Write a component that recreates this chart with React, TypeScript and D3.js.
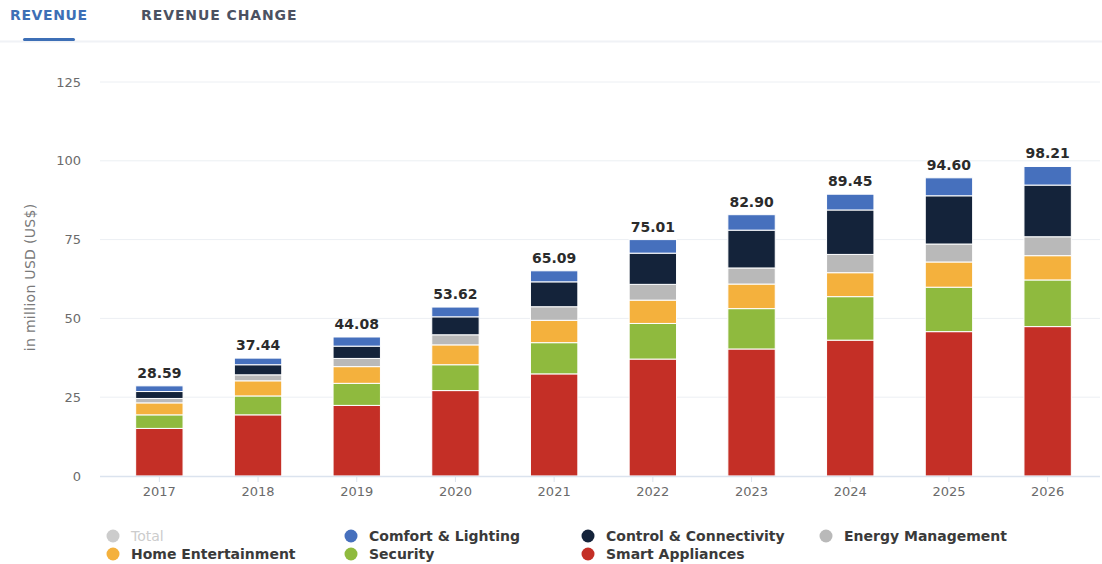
import React, { useEffect, useRef } from 'react';
import * as d3 from 'd3';

const years = ['2017', '2018', '2019', '2020', '2021', '2022', '2023', '2024', '2025', '2026'];
const totals = [28.59, 37.44, 44.08, 53.62, 65.09, 75.01, 82.9, 89.45, 94.6, 98.21];

// stacked bottom -> top
const smartAppliances = [15.1, 19.4, 22.4, 27.1, 32.4, 37.1, 40.3, 43.1, 45.8, 47.4];
const security = [4.3, 6.0, 7.0, 8.2, 9.9, 11.3, 12.8, 13.8, 14.1, 14.8];
const homeEntertainment = [3.8, 4.8, 5.3, 6.3, 7.1, 7.4, 7.8, 7.6, 8.0, 7.7];
const energyManagement = [1.4, 1.9, 2.6, 3.2, 4.3, 5.0, 5.1, 5.8, 5.7, 6.0];
const controlConnectivity = [2.2, 3.2, 3.9, 5.7, 7.9, 9.9, 12.0, 14.1, 15.3, 16.4];
const comfortLighting = [1.8, 2.1, 2.9, 3.1, 3.5, 4.3, 4.9, 5.0, 5.7, 5.9];

const yTicks = [0, 25, 50, 75, 100, 125];

const seriesList = [
  { name: 'Smart Appliances', values: smartAppliances, color: '#c42f26' },
  { name: 'Security', values: security, color: '#8fba3e' },
  { name: 'Home Entertainment', values: homeEntertainment, color: '#f4b13d' },
  { name: 'Energy Management', values: energyManagement, color: '#b9b9b9' },
  { name: 'Control & Connectivity', values: controlConnectivity, color: '#14233a' },
  { name: 'Comfort & Lighting', values: comfortLighting, color: '#4670bd' },
];

// legend order as shown
const legendItems = [
  { name: 'Total', color: '#cccccc', hidden: true },
  { name: 'Comfort & Lighting', color: '#4670bd' },
  { name: 'Control & Connectivity', color: '#14233a' },
  { name: 'Energy Management', color: '#b9b9b9' },
  { name: 'Home Entertainment', color: '#f4b13d' },
  { name: 'Security', color: '#8fba3e' },
  { name: 'Smart Appliances', color: '#c42f26' },
];

const FONT = '"DejaVu Sans", Verdana, sans-serif';

export default function App() {
  const svgRef = useRef<SVGSVGElement>(null);

  useEffect(() => {
    if (!svgRef.current) return;
    const width = 1102;
    const height = 564;
    const svg = d3.select(svgRef.current);
    svg.selectAll('*').remove();

    svg.append('rect').attr('width', width).attr('height', height).attr('fill', '#fff');

    // tabs (top of the text is cut off in the screenshot)
    svg.append('clipPath').attr('id', 'tabclip')
      .append('rect').attr('x', 0).attr('y', 10).attr('width', width).attr('height', 40);
    const tabs = svg.append('g').attr('clip-path', 'url(#tabclip)');
    svg.append('line')
      .attr('x1', 0).attr('x2', width).attr('y1', 41.5).attr('y2', 41.5)
      .attr('stroke', '#f0f2f6').attr('stroke-width', 2);
    tabs.append('text')
      .attr('x', 10).attr('y', 20)
      .attr('fill', '#3d6fb6')
      .style('font-family', FONT).style('font-size', '14px').style('font-weight', 'bold')
      .style('letter-spacing', '0.6px')
      .text('REVENUE');
    tabs.append('text')
      .attr('x', 141).attr('y', 20)
      .attr('fill', '#4b5262')
      .style('font-family', FONT).style('font-size', '14px').style('font-weight', 'bold')
      .style('letter-spacing', '0.9px')
      .text('REVENUE CHANGE');
    svg.append('rect')
      .attr('x', 23).attr('y', 38).attr('width', 52).attr('height', 3).attr('rx', 1.5)
      .attr('fill', '#3d6fb6');

    const x = d3.scaleBand().domain(years).range([110, 1097]).paddingInner(0.52).paddingOuter(0.26);
    const y = d3.scaleLinear().domain([0, 125]).range([476, 82]);

    // gridlines
    svg.append('g')
      .selectAll('line')
      .data(yTicks.filter(t => t > 0))
      .join('line')
      .attr('x1', 100).attr('x2', 1100)
      .attr('y1', d => y(d)).attr('y2', d => y(d))
      .attr('stroke', '#eceff3').attr('stroke-width', 1);

    // y axis
    const yAxis = svg.append('g')
      .attr('transform', 'translate(81,0)')
      .call(d3.axisLeft(y).tickValues(yTicks).tickSize(0).tickPadding(0));
    yAxis.select('.domain').remove();
    yAxis.selectAll('text')
      .attr('fill', '#6b6b6b')
      .style('font-family', FONT).style('font-size', '13px');

    svg.append('text')
      .attr('transform', `translate(35,${y(63)}) rotate(-90)`)
      .attr('text-anchor', 'middle')
      .attr('fill', '#7a7a7a')
      .style('font-family', FONT).style('font-size', '14px')
      .style('letter-spacing', '0.3px')
      .text('in million USD (US$)');

    // stacked bars
    const rows = years.map((yr, i) => {
      const row: Record<string, number | string> = { year: yr };
      seriesList.forEach(s => { row[s.name] = s.values[i]; });
      return row;
    });
    const stack = d3.stack<Record<string, number | string>>().keys(seriesList.map(s => s.name));
    const stacked = stack(rows as any);

    const barsG = svg.append('g');
    stacked.forEach((layer, li) => {
      barsG.append('g')
        .attr('fill', seriesList[li].color)
        .selectAll('rect')
        .data(layer)
        .join('rect')
        .attr('x', d => x(String(d.data.year))!)
        .attr('width', x.bandwidth())
        .attr('y', d => y(d[1]))
        .attr('height', d => y(d[0]) - y(d[1]))
        .attr('stroke', '#ffffff')
        .attr('stroke-width', 1);
    });

    // x axis baseline and ticks
    svg.append('line')
      .attr('x1', 100).attr('x2', 1100).attr('y1', 476.5).attr('y2', 476.5)
      .attr('stroke', '#dbe3ee').attr('stroke-width', 1.5);
    const xAxis = svg.append('g')
      .attr('transform', 'translate(0,477)')
      .call(d3.axisBottom(x).tickSize(5).tickPadding(5));
    xAxis.select('.domain').remove();
    xAxis.selectAll('line').attr('stroke', '#dbe3ee');
    xAxis.selectAll('text')
      .attr('fill', '#6b6b6b')
      .style('font-family', FONT).style('font-size', '13px');

    // total labels
    svg.append('g')
      .selectAll('text')
      .data(years)
      .join('text')
      .attr('x', d => x(d)! + x.bandwidth() / 2)
      .attr('y', (d, i) => y(totals[i]) - 8)
      .attr('text-anchor', 'middle')
      .attr('fill', '#2b2b2b')
      .style('font-family', FONT).style('font-size', '14px').style('font-weight', 'bold')
      .text((d, i) => totals[i].toFixed(2));

    // legend
    const colX = [113, 351, 588, 826];
    const rowY = [536, 554];
    const legend = svg.append('g');
    legendItems.forEach((item, i) => {
      const cx = colX[i % 4];
      const cy = rowY[Math.floor(i / 4)];
      const g = legend.append('g');
      g.append('circle').attr('cx', cx).attr('cy', cy).attr('r', 6.5).attr('fill', item.color);
      g.append('text')
        .attr('x', cx + 18).attr('y', cy + 5)
        .attr('fill', item.hidden ? '#cccccc' : '#3a3a3a')
        .style('font-family', FONT).style('font-size', '14px')
        .style('font-weight', item.hidden ? 'normal' : 'bold')
        .text(item.name);
    });
  }, []);

  return (
    <svg
      ref={svgRef}
      width={1102}
      height={564}
      style={{ position: 'absolute', left: 0, top: 0 }}
    />
  );
}
